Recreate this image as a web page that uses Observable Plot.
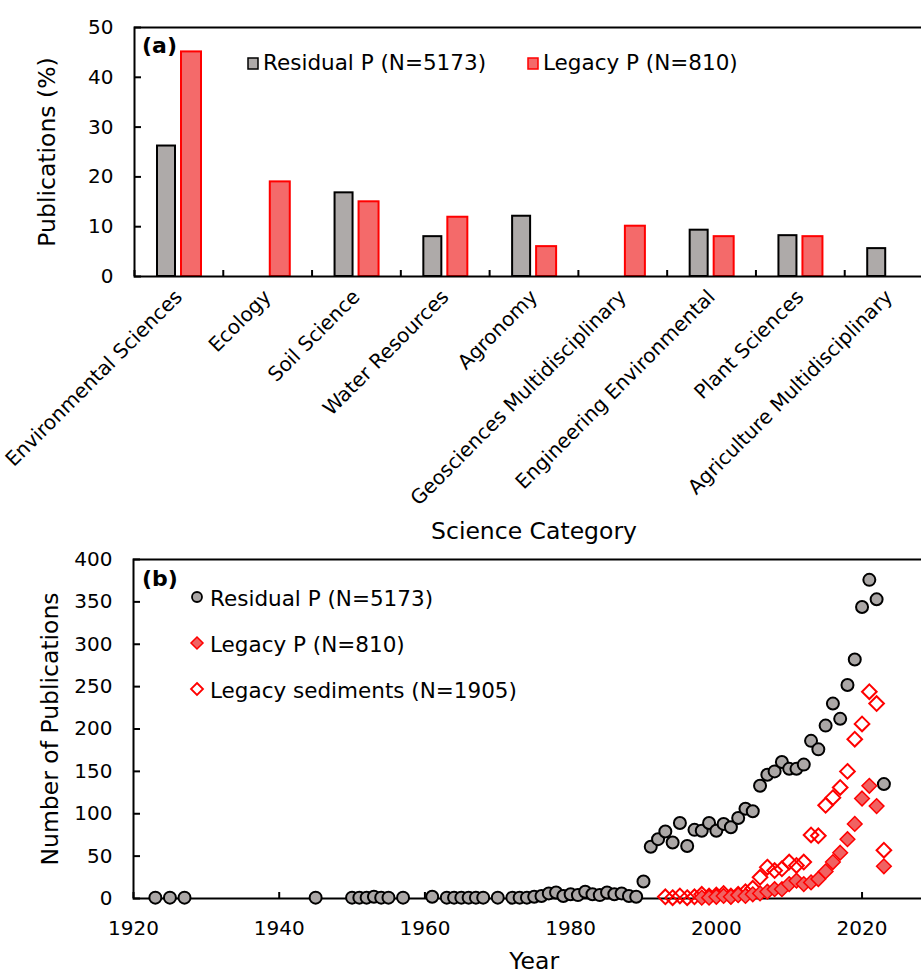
<!DOCTYPE html>
<html><head><meta charset="utf-8">
<script src="https://cdn.jsdelivr.net/npm/d3@7"></script>
<script src="https://cdn.jsdelivr.net/npm/@observablehq/plot@0.6"></script>
<style>
body{margin:0;background:#fff;}
#wrap{position:relative;width:921px;height:976px;overflow:hidden;background:#fff;}
#wrap svg{position:absolute;left:0;display:block;background:transparent;}
</style></head><body><div id="wrap"></div>
<script>
// ---------- Panel (a) data ----------
const categories = ["Environmental Sciences","Ecology","Soil Science","Water Resources","Agronomy","Geosciences Multidisciplinary","Engineering Environmental","Plant Sciences","Agriculture Multidisciplinary"];
const residualPct = [26.2, null, 16.8, 8.0, 12.1, null, 9.3, 8.2, 5.6];
const legacyPct   = [45.1, 19.0, 15.0, 11.9, 6.0, 10.1, 8.0, 8.0, null];
const pctTicks = [0, 10, 20, 30, 40, 50];
const legendA = ["Residual P (N=5173)", "Legacy P (N=810)"];

// ---------- Panel (b) data ----------
const residualYears  = [1923,1925,1927,1945,1950,1951,1952,1953,1954,1955,1957,1961,1963,1964,1965,1966,1967,1968,1970,1972,1973,1974,1975,1976,1977,1978,1979,1980,1981,1982,1983,1984,1985,1986,1987,1988,1989,
  1990,1991,1992,1993,1994,1995,1996,1997,1998,1999,2000,2001,2002,2003,2004,2005,2006,2007,2008,2009,2010,2011,2012,2013,2014,2015,2016,2017,2018,2019,2020,2021,2022,2023];
const residualCounts = [1,1,1,1,1,1,1,2,1,1,1,2,1,1,1,1,1,1,1,1,1,1,2,3,6,7,3,5,4,8,5,4,7,5,6,3,2,
  20,61,70,79,66,89,62,81,80,89,80,88,84,95,106,103,133,146,150,161,153,153,158,186,176,204,230,212,252,282,344,376,353,135];
const sedimentYears  = [1993,1994,1995,1996,1997,1998,1999,2000,2001,2002,2003,2004,2005,2006,2007,2008,2009,2010,2011,2012,2013,2014,2015,2016,2017,2018,2019,2020,2021,2022,2023];
const sedimentCounts = [2,1,3,1,2,5,3,4,6,3,5,8,12,25,37,33,35,43,39,43,75,74,110,119,131,150,188,206,244,230,57];
const legacyYears    = [1998,1999,2000,2001,2002,2003,2004,2005,2006,2007,2008,2009,2010,2011,2012,2013,2014,2015,2016,2017,2018,2019,2020,2021,2022,2023];
const legacyCounts   = [1,1,2,3,2,4,3,5,6,8,11,11,17,21,17,19,23,32,43,54,70,88,118,133,109,38];
const yearTicks  = [1920, 1940, 1960, 1980, 2000, 2020];
const countTicks = [0, 50, 100, 150, 200, 250, 300, 350, 400];
const legendB = ["Residual P (N=5173)", "Legacy P (N=810)", "Legacy sediments (N=1905)"];

// ---------- styles ----------
const font = '"DejaVu Sans", sans-serif';
const gray = "#aeaaa9", pink = "#f46a6a", red = "#ff0000";
const wrap = document.getElementById("wrap");

// ---------- Panel (a) ----------
const aLeft = 134, aRight = 933, aH = 556;
const bw = (aRight - aLeft) / categories.length;
const rows = vals => categories.map((c, i) => ({category: c, value: vals[i]})).filter(d => d.value != null);

const plotA = Plot.plot({
  width: 921, height: aH,
  marginLeft: aLeft, marginRight: 921 - aRight, marginTop: 27, marginBottom: aH - 276,
  style: {fontFamily: font, color: "#000", background: "transparent"},
  x: {domain: categories, padding: 0, round: false},
  y: {domain: [0, 50]},
  marks: [
    Plot.barY(rows(residualPct), {x: "category", y: "value", insetLeft: 23, insetRight: bw - 41, fill: gray, stroke: "#000", strokeWidth: 2}),
    Plot.barY(rows(legacyPct), {x: "category", y: "value", insetLeft: 47, insetRight: bw - 67, fill: pink, stroke: red, strokeWidth: 2}),
    Plot.axisY({ticks: pctTicks, tickSize: 0, tickPadding: 21, fontSize: 20, label: null}),
    Plot.axisY({ticks: pctTicks, tickSize: -7, tickFormat: () => "", label: null, strokeWidth: 2}),
    Plot.axisX({tickSize: -6, tickFormat: () => "", dx: -bw / 2, label: null, strokeWidth: 2}),
    Plot.axisX({tickSize: 0, tickRotate: -45, tickPadding: 17, fontSize: 20, label: null}),
    Plot.frame({stroke: "#000", strokeWidth: 2}),
    Plot.text(["Publications (%)"], {text: d => d, frameAnchor: "left", dx: -87, rotate: -90, textAnchor: "middle", fontSize: 23.5}),
    Plot.text(["Science Category"], {text: d => d, frameAnchor: "bottom", dy: 262, textAnchor: "middle", lineAnchor: "bottom", fontSize: 23.5})
  ]
});
plotA.style.top = "0px";

{
  const s = d3.select(plotA);
  s.append("text").attr("x", 142).attr("y", 53).attr("text-anchor", "start").attr("font-family", font).attr("font-weight", "bold").attr("font-size", 22).text("(a)");
  const g = s.append("g").attr("font-family", font).attr("font-size", 21.5).attr("text-anchor", "start");
  const items = [{x: 248, fill: gray, stroke: "#000"}, {x: 528, fill: pink, stroke: red}];
  items.forEach((it, i) => {
    g.append("rect").attr("x", it.x).attr("y", 58).attr("width", 10).attr("height", 11)
      .attr("fill", it.fill).attr("stroke", it.stroke).attr("stroke-width", 1.5);
    g.append("text").attr("x", it.x + 15).attr("y", 70).text(legendA[i]);
  });
}

// ---------- Panel (b) ----------
const toRows = (ys, cs) => ys.map((y, i) => ({year: y, count: cs[i]}));
const bTop = 530, bLeft = 133, bRight = 934.4;
const plotB = Plot.plot({
  width: 921, height: 976 - bTop,
  marginLeft: bLeft, marginRight: 921 - bRight, marginTop: 559 - bTop, marginBottom: 976 - 898,
  style: {fontFamily: font, color: "#000", background: "transparent"},
  x: {domain: [1920, 2030]},
  y: {domain: [0, 400]},
  marks: [
    Plot.frame({stroke: "#000", strokeWidth: 2}),
    Plot.axisY({ticks: countTicks, tickSize: 0, tickPadding: 21, fontSize: 20, label: null}),
    Plot.axisY({ticks: countTicks, tickSize: -7, tickFormat: () => "", label: null, strokeWidth: 2}),
    Plot.axisX({ticks: yearTicks, tickSize: 0, tickPadding: 22, fontSize: 20, tickFormat: d => String(d), label: null}),
    Plot.axisX({ticks: yearTicks, tickSize: -6, tickFormat: () => "", label: null, strokeWidth: 2}),
    Plot.dot(toRows(residualYears, residualCounts), {x: "year", y: "count", r: 6, fill: "#aba7a6", stroke: "#000", strokeWidth: 2}),
    Plot.dot(toRows(sedimentYears, sedimentCounts), {x: "year", y: "count", symbol: "diamond2", r: 6.6, fill: "none", stroke: red, strokeWidth: 2}),
    Plot.dot(toRows(legacyYears, legacyCounts), {x: "year", y: "count", symbol: "diamond2", r: 6.6, fill: "#f06262", stroke: red, strokeWidth: 1.5}),
    Plot.text(["Number of Publications"], {text: d => d, frameAnchor: "left", dx: -83, rotate: -90, textAnchor: "middle", fontSize: 23.5}),
    Plot.text(["Year"], {text: d => d, frameAnchor: "bottom", dy: 70, textAnchor: "middle", lineAnchor: "bottom", fontSize: 23.5})
  ]
});
plotB.style.top = bTop + "px";

{
  const s = d3.select(plotB);
  const oy = -bTop; // convert page y to panel y
  s.append("text").attr("x", 142).attr("y", 586 + oy).attr("text-anchor", "start").attr("font-family", font).attr("font-weight", "bold").attr("font-size", 22).text("(b)");
  const g = s.append("g").attr("font-family", font).attr("font-size", 21.5).attr("text-anchor", "start");
  const cy = [597 + oy, 643 + oy, 689 + oy];
  const diamond = d3.symbol(d3.symbolDiamond2, 92)();
  g.append("circle").attr("cx", 197).attr("cy", cy[0]).attr("r", 5).attr("fill", "#aba7a6").attr("stroke", "#000").attr("stroke-width", 1.8);
  g.append("path").attr("d", diamond).attr("transform", `translate(197,${cy[1]})`).attr("fill", "#f06262").attr("stroke", red).attr("stroke-width", 1.5);
  g.append("path").attr("d", diamond).attr("transform", `translate(197,${cy[2]})`).attr("fill", "#fff").attr("stroke", red).attr("stroke-width", 1.8);
  legendB.forEach((t, i) => g.append("text").attr("x", 210).attr("y", cy[i] + 9).text(t));
}

wrap.appendChild(plotB);
wrap.appendChild(plotA);
</script></body></html>
